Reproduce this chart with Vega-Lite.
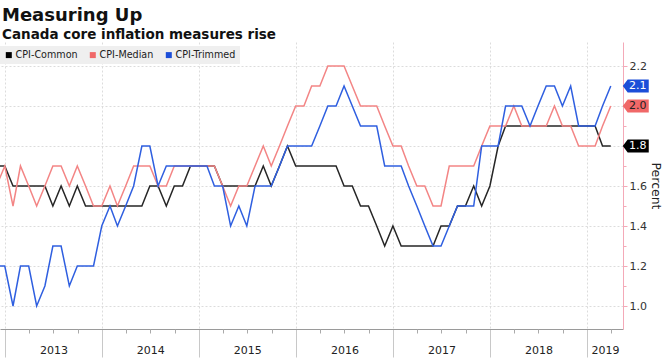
{
"$schema": "https://vega.github.io/schema/vega-lite/v6.json",
"width": 623, "height": 287,
"autosize": {"type": "none"},
"padding": {"left": 0, "top": 42, "right": 42, "bottom": 31},
"background": "white",
"config": {"font": "DejaVu Sans", "view": {"stroke": null}},
"title": {"text": "Measuring Up", "subtitle": "Canada core inflation measures rise", "anchor": "start", "frame": "group", "font": "DejaVu Sans", "fontSize": 18, "fontWeight": "bold", "color": "#111111", "subtitleFont": "DejaVu Sans", "subtitleFontSize": 13.5, "subtitleFontWeight": "bold", "subtitleColor": "#111111", "subtitlePadding": 3, "offset": 1, "dx": 2},
"data": {"name": "cpi"},
"datasets": {"cpi": [
{"date":"2012-11-30","series":"CPI-Common","value":1.7},{"date":"2012-12-31","series":"CPI-Common","value":1.7},
{"date":"2013-01-31","series":"CPI-Common","value":1.6},{"date":"2013-02-28","series":"CPI-Common","value":1.6},{"date":"2013-03-31","series":"CPI-Common","value":1.6},{"date":"2013-04-30","series":"CPI-Common","value":1.6},{"date":"2013-05-31","series":"CPI-Common","value":1.6},{"date":"2013-06-30","series":"CPI-Common","value":1.5},{"date":"2013-07-31","series":"CPI-Common","value":1.6},{"date":"2013-08-31","series":"CPI-Common","value":1.5},{"date":"2013-09-30","series":"CPI-Common","value":1.6},{"date":"2013-10-31","series":"CPI-Common","value":1.5},{"date":"2013-11-30","series":"CPI-Common","value":1.5},{"date":"2013-12-31","series":"CPI-Common","value":1.5},
{"date":"2014-01-31","series":"CPI-Common","value":1.5},{"date":"2014-02-28","series":"CPI-Common","value":1.5},{"date":"2014-03-31","series":"CPI-Common","value":1.5},{"date":"2014-04-30","series":"CPI-Common","value":1.5},{"date":"2014-05-31","series":"CPI-Common","value":1.5},{"date":"2014-06-30","series":"CPI-Common","value":1.6},{"date":"2014-07-31","series":"CPI-Common","value":1.6},{"date":"2014-08-31","series":"CPI-Common","value":1.5},{"date":"2014-09-30","series":"CPI-Common","value":1.6},{"date":"2014-10-31","series":"CPI-Common","value":1.6},{"date":"2014-11-30","series":"CPI-Common","value":1.7},{"date":"2014-12-31","series":"CPI-Common","value":1.7},
{"date":"2015-01-31","series":"CPI-Common","value":1.7},{"date":"2015-02-28","series":"CPI-Common","value":1.7},{"date":"2015-03-31","series":"CPI-Common","value":1.6},{"date":"2015-04-30","series":"CPI-Common","value":1.6},{"date":"2015-05-31","series":"CPI-Common","value":1.6},{"date":"2015-06-30","series":"CPI-Common","value":1.6},{"date":"2015-07-31","series":"CPI-Common","value":1.6},{"date":"2015-08-31","series":"CPI-Common","value":1.7},{"date":"2015-09-30","series":"CPI-Common","value":1.6},{"date":"2015-10-31","series":"CPI-Common","value":1.7},{"date":"2015-11-30","series":"CPI-Common","value":1.8},{"date":"2015-12-31","series":"CPI-Common","value":1.7},
{"date":"2016-01-31","series":"CPI-Common","value":1.7},{"date":"2016-02-29","series":"CPI-Common","value":1.7},{"date":"2016-03-31","series":"CPI-Common","value":1.7},{"date":"2016-04-30","series":"CPI-Common","value":1.7},{"date":"2016-05-31","series":"CPI-Common","value":1.7},{"date":"2016-06-30","series":"CPI-Common","value":1.6},{"date":"2016-07-31","series":"CPI-Common","value":1.6},{"date":"2016-08-31","series":"CPI-Common","value":1.5},{"date":"2016-09-30","series":"CPI-Common","value":1.5},{"date":"2016-10-31","series":"CPI-Common","value":1.4},{"date":"2016-11-30","series":"CPI-Common","value":1.3},{"date":"2016-12-31","series":"CPI-Common","value":1.4},
{"date":"2017-01-31","series":"CPI-Common","value":1.3},{"date":"2017-02-28","series":"CPI-Common","value":1.3},{"date":"2017-03-31","series":"CPI-Common","value":1.3},{"date":"2017-04-30","series":"CPI-Common","value":1.3},{"date":"2017-05-31","series":"CPI-Common","value":1.3},{"date":"2017-06-30","series":"CPI-Common","value":1.4},{"date":"2017-07-31","series":"CPI-Common","value":1.4},{"date":"2017-08-31","series":"CPI-Common","value":1.5},{"date":"2017-09-30","series":"CPI-Common","value":1.5},{"date":"2017-10-31","series":"CPI-Common","value":1.6},{"date":"2017-11-30","series":"CPI-Common","value":1.5},{"date":"2017-12-31","series":"CPI-Common","value":1.6},
{"date":"2018-01-31","series":"CPI-Common","value":1.8},{"date":"2018-02-28","series":"CPI-Common","value":1.9},{"date":"2018-03-31","series":"CPI-Common","value":1.9},{"date":"2018-04-30","series":"CPI-Common","value":1.9},{"date":"2018-05-31","series":"CPI-Common","value":1.9},{"date":"2018-06-30","series":"CPI-Common","value":1.9},{"date":"2018-07-31","series":"CPI-Common","value":1.9},{"date":"2018-08-31","series":"CPI-Common","value":1.9},{"date":"2018-09-30","series":"CPI-Common","value":1.9},{"date":"2018-10-31","series":"CPI-Common","value":1.9},{"date":"2018-11-30","series":"CPI-Common","value":1.9},{"date":"2018-12-31","series":"CPI-Common","value":1.9},
{"date":"2019-01-31","series":"CPI-Common","value":1.9},{"date":"2019-02-28","series":"CPI-Common","value":1.8},{"date":"2019-03-31","series":"CPI-Common","value":1.8},
{"date":"2012-11-30","series":"CPI-Median","value":1.6},{"date":"2012-12-31","series":"CPI-Median","value":1.7},
{"date":"2013-01-31","series":"CPI-Median","value":1.5},{"date":"2013-02-28","series":"CPI-Median","value":1.7},{"date":"2013-03-31","series":"CPI-Median","value":1.6},{"date":"2013-04-30","series":"CPI-Median","value":1.5},{"date":"2013-05-31","series":"CPI-Median","value":1.6},{"date":"2013-06-30","series":"CPI-Median","value":1.7},{"date":"2013-07-31","series":"CPI-Median","value":1.7},{"date":"2013-08-31","series":"CPI-Median","value":1.6},{"date":"2013-09-30","series":"CPI-Median","value":1.7},{"date":"2013-10-31","series":"CPI-Median","value":1.6},{"date":"2013-11-30","series":"CPI-Median","value":1.5},{"date":"2013-12-31","series":"CPI-Median","value":1.5},
{"date":"2014-01-31","series":"CPI-Median","value":1.6},{"date":"2014-02-28","series":"CPI-Median","value":1.5},{"date":"2014-03-31","series":"CPI-Median","value":1.6},{"date":"2014-04-30","series":"CPI-Median","value":1.7},{"date":"2014-05-31","series":"CPI-Median","value":1.7},{"date":"2014-06-30","series":"CPI-Median","value":1.7},{"date":"2014-07-31","series":"CPI-Median","value":1.6},{"date":"2014-08-31","series":"CPI-Median","value":1.6},{"date":"2014-09-30","series":"CPI-Median","value":1.7},{"date":"2014-10-31","series":"CPI-Median","value":1.7},{"date":"2014-11-30","series":"CPI-Median","value":1.7},{"date":"2014-12-31","series":"CPI-Median","value":1.7},
{"date":"2015-01-31","series":"CPI-Median","value":1.7},{"date":"2015-02-28","series":"CPI-Median","value":1.7},{"date":"2015-03-31","series":"CPI-Median","value":1.6},{"date":"2015-04-30","series":"CPI-Median","value":1.5},{"date":"2015-05-31","series":"CPI-Median","value":1.6},{"date":"2015-06-30","series":"CPI-Median","value":1.6},{"date":"2015-07-31","series":"CPI-Median","value":1.7},{"date":"2015-08-31","series":"CPI-Median","value":1.8},{"date":"2015-09-30","series":"CPI-Median","value":1.7},{"date":"2015-10-31","series":"CPI-Median","value":1.8},{"date":"2015-11-30","series":"CPI-Median","value":1.9},{"date":"2015-12-31","series":"CPI-Median","value":2.0},
{"date":"2016-01-31","series":"CPI-Median","value":2.0},{"date":"2016-02-29","series":"CPI-Median","value":2.1},{"date":"2016-03-31","series":"CPI-Median","value":2.1},{"date":"2016-04-30","series":"CPI-Median","value":2.2},{"date":"2016-05-31","series":"CPI-Median","value":2.2},{"date":"2016-06-30","series":"CPI-Median","value":2.2},{"date":"2016-07-31","series":"CPI-Median","value":2.1},{"date":"2016-08-31","series":"CPI-Median","value":2.0},{"date":"2016-09-30","series":"CPI-Median","value":2.0},{"date":"2016-10-31","series":"CPI-Median","value":2.0},{"date":"2016-11-30","series":"CPI-Median","value":1.9},{"date":"2016-12-31","series":"CPI-Median","value":1.8},
{"date":"2017-01-31","series":"CPI-Median","value":1.8},{"date":"2017-02-28","series":"CPI-Median","value":1.7},{"date":"2017-03-31","series":"CPI-Median","value":1.6},{"date":"2017-04-30","series":"CPI-Median","value":1.6},{"date":"2017-05-31","series":"CPI-Median","value":1.5},{"date":"2017-06-30","series":"CPI-Median","value":1.5},{"date":"2017-07-31","series":"CPI-Median","value":1.7},{"date":"2017-08-31","series":"CPI-Median","value":1.7},{"date":"2017-09-30","series":"CPI-Median","value":1.7},{"date":"2017-10-31","series":"CPI-Median","value":1.7},{"date":"2017-11-30","series":"CPI-Median","value":1.8},{"date":"2017-12-31","series":"CPI-Median","value":1.9},
{"date":"2018-01-31","series":"CPI-Median","value":1.9},{"date":"2018-02-28","series":"CPI-Median","value":1.9},{"date":"2018-03-31","series":"CPI-Median","value":2.0},{"date":"2018-04-30","series":"CPI-Median","value":1.9},{"date":"2018-05-31","series":"CPI-Median","value":1.9},{"date":"2018-06-30","series":"CPI-Median","value":1.9},{"date":"2018-07-31","series":"CPI-Median","value":1.9},{"date":"2018-08-31","series":"CPI-Median","value":2.0},{"date":"2018-09-30","series":"CPI-Median","value":1.9},{"date":"2018-10-31","series":"CPI-Median","value":1.9},{"date":"2018-11-30","series":"CPI-Median","value":1.8},{"date":"2018-12-31","series":"CPI-Median","value":1.8},
{"date":"2019-01-31","series":"CPI-Median","value":1.8},{"date":"2019-02-28","series":"CPI-Median","value":1.9},{"date":"2019-03-31","series":"CPI-Median","value":2.0},
{"date":"2012-11-30","series":"CPI-Trimmed","value":1.2},{"date":"2012-12-31","series":"CPI-Trimmed","value":1.2},
{"date":"2013-01-31","series":"CPI-Trimmed","value":1.0},{"date":"2013-02-28","series":"CPI-Trimmed","value":1.2},{"date":"2013-03-31","series":"CPI-Trimmed","value":1.2},{"date":"2013-04-30","series":"CPI-Trimmed","value":1.0},{"date":"2013-05-31","series":"CPI-Trimmed","value":1.1},{"date":"2013-06-30","series":"CPI-Trimmed","value":1.3},{"date":"2013-07-31","series":"CPI-Trimmed","value":1.3},{"date":"2013-08-31","series":"CPI-Trimmed","value":1.1},{"date":"2013-09-30","series":"CPI-Trimmed","value":1.2},{"date":"2013-10-31","series":"CPI-Trimmed","value":1.2},{"date":"2013-11-30","series":"CPI-Trimmed","value":1.2},{"date":"2013-12-31","series":"CPI-Trimmed","value":1.4},
{"date":"2014-01-31","series":"CPI-Trimmed","value":1.5},{"date":"2014-02-28","series":"CPI-Trimmed","value":1.4},{"date":"2014-03-31","series":"CPI-Trimmed","value":1.5},{"date":"2014-04-30","series":"CPI-Trimmed","value":1.6},{"date":"2014-05-31","series":"CPI-Trimmed","value":1.8},{"date":"2014-06-30","series":"CPI-Trimmed","value":1.8},{"date":"2014-07-31","series":"CPI-Trimmed","value":1.6},{"date":"2014-08-31","series":"CPI-Trimmed","value":1.7},{"date":"2014-09-30","series":"CPI-Trimmed","value":1.7},{"date":"2014-10-31","series":"CPI-Trimmed","value":1.7},{"date":"2014-11-30","series":"CPI-Trimmed","value":1.7},{"date":"2014-12-31","series":"CPI-Trimmed","value":1.7},
{"date":"2015-01-31","series":"CPI-Trimmed","value":1.7},{"date":"2015-02-28","series":"CPI-Trimmed","value":1.6},{"date":"2015-03-31","series":"CPI-Trimmed","value":1.6},{"date":"2015-04-30","series":"CPI-Trimmed","value":1.4},{"date":"2015-05-31","series":"CPI-Trimmed","value":1.5},{"date":"2015-06-30","series":"CPI-Trimmed","value":1.4},{"date":"2015-07-31","series":"CPI-Trimmed","value":1.6},{"date":"2015-08-31","series":"CPI-Trimmed","value":1.6},{"date":"2015-09-30","series":"CPI-Trimmed","value":1.6},{"date":"2015-10-31","series":"CPI-Trimmed","value":1.7},{"date":"2015-11-30","series":"CPI-Trimmed","value":1.8},{"date":"2015-12-31","series":"CPI-Trimmed","value":1.8},
{"date":"2016-01-31","series":"CPI-Trimmed","value":1.8},{"date":"2016-02-29","series":"CPI-Trimmed","value":1.8},{"date":"2016-03-31","series":"CPI-Trimmed","value":1.9},{"date":"2016-04-30","series":"CPI-Trimmed","value":2.0},{"date":"2016-05-31","series":"CPI-Trimmed","value":2.0},{"date":"2016-06-30","series":"CPI-Trimmed","value":2.1},{"date":"2016-07-31","series":"CPI-Trimmed","value":2.0},{"date":"2016-08-31","series":"CPI-Trimmed","value":1.9},{"date":"2016-09-30","series":"CPI-Trimmed","value":1.9},{"date":"2016-10-31","series":"CPI-Trimmed","value":1.9},{"date":"2016-11-30","series":"CPI-Trimmed","value":1.7},{"date":"2016-12-31","series":"CPI-Trimmed","value":1.7},
{"date":"2017-01-31","series":"CPI-Trimmed","value":1.7},{"date":"2017-02-28","series":"CPI-Trimmed","value":1.6},{"date":"2017-03-31","series":"CPI-Trimmed","value":1.5},{"date":"2017-04-30","series":"CPI-Trimmed","value":1.4},{"date":"2017-05-31","series":"CPI-Trimmed","value":1.3},{"date":"2017-06-30","series":"CPI-Trimmed","value":1.3},{"date":"2017-07-31","series":"CPI-Trimmed","value":1.4},{"date":"2017-08-31","series":"CPI-Trimmed","value":1.5},{"date":"2017-09-30","series":"CPI-Trimmed","value":1.5},{"date":"2017-10-31","series":"CPI-Trimmed","value":1.5},{"date":"2017-11-30","series":"CPI-Trimmed","value":1.8},{"date":"2017-12-31","series":"CPI-Trimmed","value":1.8},
{"date":"2018-01-31","series":"CPI-Trimmed","value":1.8},{"date":"2018-02-28","series":"CPI-Trimmed","value":2.0},{"date":"2018-03-31","series":"CPI-Trimmed","value":2.0},{"date":"2018-04-30","series":"CPI-Trimmed","value":2.0},{"date":"2018-05-31","series":"CPI-Trimmed","value":1.9},{"date":"2018-06-30","series":"CPI-Trimmed","value":2.0},{"date":"2018-07-31","series":"CPI-Trimmed","value":2.1},{"date":"2018-08-31","series":"CPI-Trimmed","value":2.1},{"date":"2018-09-30","series":"CPI-Trimmed","value":2.0},{"date":"2018-10-31","series":"CPI-Trimmed","value":2.1},{"date":"2018-11-30","series":"CPI-Trimmed","value":1.9},{"date":"2018-12-31","series":"CPI-Trimmed","value":1.9},
{"date":"2019-01-31","series":"CPI-Trimmed","value":1.9},{"date":"2019-02-28","series":"CPI-Trimmed","value":2.0},{"date":"2019-03-31","series":"CPI-Trimmed","value":2.1}
]},
"layer": [
{
"mark": {"type": "line", "strokeWidth": 1.5, "clip": true},
"encoding": {
"x": {"field": "date", "type": "temporal", "scale": {"type": "utc", "domain": [{"year": 2012, "month": 12, "date": 13, "utc": true}, {"year": 2019, "month": 5, "date": 16, "utc": true}]},
"axis": {"orient": "bottom", "title": null, "labels": false, "values": [{"year": 2013, "month": 1, "date": 1, "utc": true}, {"year": 2014, "month": 1, "date": 1, "utc": true}, {"year": 2015, "month": 1, "date": 1, "utc": true}, {"year": 2016, "month": 1, "date": 1, "utc": true}, {"year": 2017, "month": 1, "date": 1, "utc": true}, {"year": 2018, "month": 1, "date": 1, "utc": true}, {"year": 2019, "month": 1, "date": 1, "utc": true}], "tickSize": 28, "tickColor": "#c8c8c8", "domainColor": "#9a9a9a", "grid": true, "gridColor": "#dcdcdc", "gridDash": [2, 2]}},
"y": {"field": "value", "type": "quantitative", "scale": {"domain": [0.885, 2.32], "zero": false, "nice": false},
"axis": {"orient": "right", "values": [1, 1.2, 1.4, 1.6, 1.8, 2, 2.2], "format": ".1f", "title": "Percent", "titleFontSize": 12.5, "titleFontWeight": "normal", "titleColor": "#222222", "titlePadding": 2, "labelFontSize": 11, "labelColor": "#333333", "labelPadding": 2, "tickSize": 4, "tickColor": "#f4a9b8", "domainColor": "#f4a9b8", "grid": true, "gridColor": "#dcdcdc", "gridDash": [2, 2]}},
"color": {"field": "series", "type": "nominal", "scale": {"domain": ["CPI-Common", "CPI-Median", "CPI-Trimmed"], "range": ["#262626", "#f38585", "#2f5fe0"]}, "legend": null}
}
},
{
"transform": [{"filter": {"field": "date", "timeUnit": "utcyearmonthdate", "equal": {"year": 2019, "month": 3, "date": 31, "utc": true}}}],
"mark": {"type": "point", "filled": true, "opacity": 1, "shape": "M-1,0L-0.62,-0.5L1,-0.5L1,0.5L-0.62,0.5Z", "size": 676, "xOffset": 25},
"encoding": {
"x": {"field": "date", "type": "temporal", "axis": {"orient": "bottom", "title": null, "values": [{"year": 2013, "month": 7, "date": 2, "utc": true}, {"year": 2014, "month": 7, "date": 2, "utc": true}, {"year": 2015, "month": 7, "date": 2, "utc": true}, {"year": 2016, "month": 7, "date": 2, "utc": true}, {"year": 2017, "month": 7, "date": 2, "utc": true}, {"year": 2018, "month": 7, "date": 2, "utc": true}, {"year": 2019, "month": 3, "date": 9, "utc": true}], "format": "%Y", "ticks": false, "tickSize": 0, "domain": false, "grid": false, "labelFontSize": 11, "labelColor": "#222222", "labelPadding": 15, "labelBaseline": "top", "labelFlush": false, "labelOverlap": false}},
"y": {"field": "value", "type": "quantitative", "axis": {"orient": "right", "values": [1.1, 1.3, 1.5, 1.7, 1.9, 2.1], "labels": false, "domain": false, "grid": false, "title": null, "tickSize": 3, "tickColor": "#f4a9b8"}},
"color": {"field": "series", "type": "nominal", "scale": {"domain": ["CPI-Common", "CPI-Median", "CPI-Trimmed"], "range": ["#000000", "#f06868", "#1c4ed8"]},
"legend": {"title": null, "orient": "none", "legendX": 0, "legendY": 4, "direction": "horizontal", "symbolType": "square", "symbolSize": 36, "fillColor": "#efefef", "padding": 4, "labelFontSize": 9.6, "labelColor": "#222222", "columnPadding": 10, "labelOffset": 2, "symbolStrokeWidth": 0, "symbolOpacity": 1}}
}
},
{
"transform": [{"filter": {"field": "date", "timeUnit": "utcyearmonthdate", "equal": {"year": 2019, "month": 3, "date": 31, "utc": true}}}],
"mark": {"type": "text", "fontSize": 11, "xOffset": 27, "align": "center", "baseline": "middle", "font": "DejaVu Sans"},
"encoding": {
"x": {"field": "date", "type": "temporal", "axis": {"orient": "bottom", "title": null, "labels": false, "domain": false, "grid": false, "tickSize": 4, "tickColor": "#aaaaaa", "values": [{"year": 2013, "month": 4, "date": 1, "utc": true}, {"year": 2013, "month": 7, "date": 1, "utc": true}, {"year": 2013, "month": 10, "date": 1, "utc": true}, {"year": 2014, "month": 4, "date": 1, "utc": true}, {"year": 2014, "month": 7, "date": 1, "utc": true}, {"year": 2014, "month": 10, "date": 1, "utc": true}, {"year": 2015, "month": 4, "date": 1, "utc": true}, {"year": 2015, "month": 7, "date": 1, "utc": true}, {"year": 2015, "month": 10, "date": 1, "utc": true}, {"year": 2016, "month": 4, "date": 1, "utc": true}, {"year": 2016, "month": 7, "date": 1, "utc": true}, {"year": 2016, "month": 10, "date": 1, "utc": true}, {"year": 2017, "month": 4, "date": 1, "utc": true}, {"year": 2017, "month": 7, "date": 1, "utc": true}, {"year": 2017, "month": 10, "date": 1, "utc": true}, {"year": 2018, "month": 4, "date": 1, "utc": true}, {"year": 2018, "month": 7, "date": 1, "utc": true}, {"year": 2018, "month": 10, "date": 1, "utc": true}, {"year": 2019, "month": 4, "date": 1, "utc": true}]}},
"y": {"field": "value", "type": "quantitative", "axis": null},
"text": {"field": "value", "type": "quantitative", "format": ".1f"},
"color": {"field": "series", "type": "nominal", "scale": {"domain": ["CPI-Common", "CPI-Median", "CPI-Trimmed"], "range": ["#ffffff", "#222222", "#ffffff"]}, "legend": null}
}
}
],
"resolve": {"scale": {"color": "independent"}, "axis": {"x": "independent", "y": "independent"}}
}
